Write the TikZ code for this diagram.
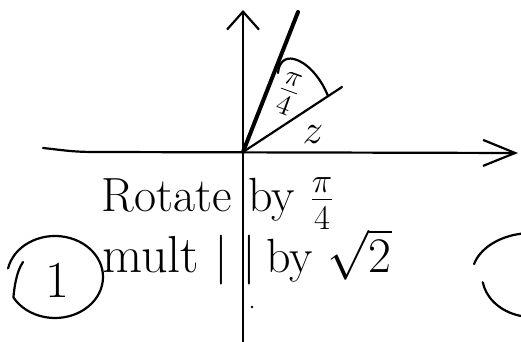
\documentclass[tikz,border=0pt]{standalone}
\usetikzlibrary{arrows.meta}

\newcommand*{\xmin}{0}
\newcommand*{\xmax}{521}
\newcommand*{\ymin}{0}
\newcommand*{\ymax}{342}

\begin{document}
\begin{tikzpicture}
[
	x=0.5pt,y=0.5pt,
	pen/.style={line width=1.1pt,line cap=round,line join=round},
	heavypen/.style={line width=2pt,line cap=round},
	ytip/.style={-{Straight Barb[length=9pt,width=16pt,line width=1.1pt]}},
	xtip/.style={-{Straight Barb[length=16pt,width=13pt,line width=1.1pt]}},
	small/.style={font=\fontsize{22}{26}\selectfont,inner sep=1pt},
	big/.style={font=\fontsize{26}{30}\selectfont,inner sep=1pt}
]

	\useasboundingbox (\xmin,\ymin) rectangle (\xmax,\ymax);

	\coordinate (O) at (243,190);
	\coordinate (ytop) at (243,332);
	\coordinate (ybot) at (243,0);
	\coordinate (xleft) at (43,194);
	\coordinate (xright) at (518,189);
	\coordinate (w) at (298,330);
	\coordinate (z) at (342,255);

	% axes
	\draw[pen,ytip] (ybot) -- (ytop);
	\draw[pen,xtip] (xleft) .. controls (62,192) and (72,190) .. (95,190) -- (xright);

	% z and its rotated copy
	\draw[heavypen] (O) -- (w);
	\draw[pen] (O) -- (z);

	% angle
	\draw[pen] (278,269) .. controls (279,280) and (285,285) .. (294,283)
		.. controls (306,280) and (320,266) .. (328,246);
	\node[small,rotate=-20] (angle) at (288,248) {$\frac{\pi}{4}$};
	\node[small] (zlabel) at (313,207) {$z$};

	% notes
	\node[small,anchor=base east,font=\fontsize{24}{28}\selectfont] (rotate) at (234,130) {Rotate};
	\node[small,anchor=base west,font=\fontsize{24}{28}\selectfont] (byangle) at (246,130) {by $\frac{\pi}{4}$};
	\node[big,anchor=base west] (mult) at (100,69) {mult $|\;|$};
	\node[big,anchor=base west,font=\fontsize{24}{28}\selectfont] (by) at (264,69) {by $\sqrt{2}$};
	\fill (252,35) circle[radius=1.3];

	% step numbers
	\draw[pen] (55,65) ++(168:48 and 41) arc[start angle=168,end angle=-150,x radius=48,y radius=41]
		.. controls (14,52) and (16,70) .. (23,80);
	\node[big] (one) at (57,62) {1};
	\draw[pen] (532,67) ++(165:60 and 42) arc[start angle=165,end angle=70,x radius=60,y radius=42];
	\draw[pen] (532,67) ++(190:50 and 42) arc[start angle=190,end angle=285,x radius=50,y radius=42];

\end{tikzpicture}
\end{document}
